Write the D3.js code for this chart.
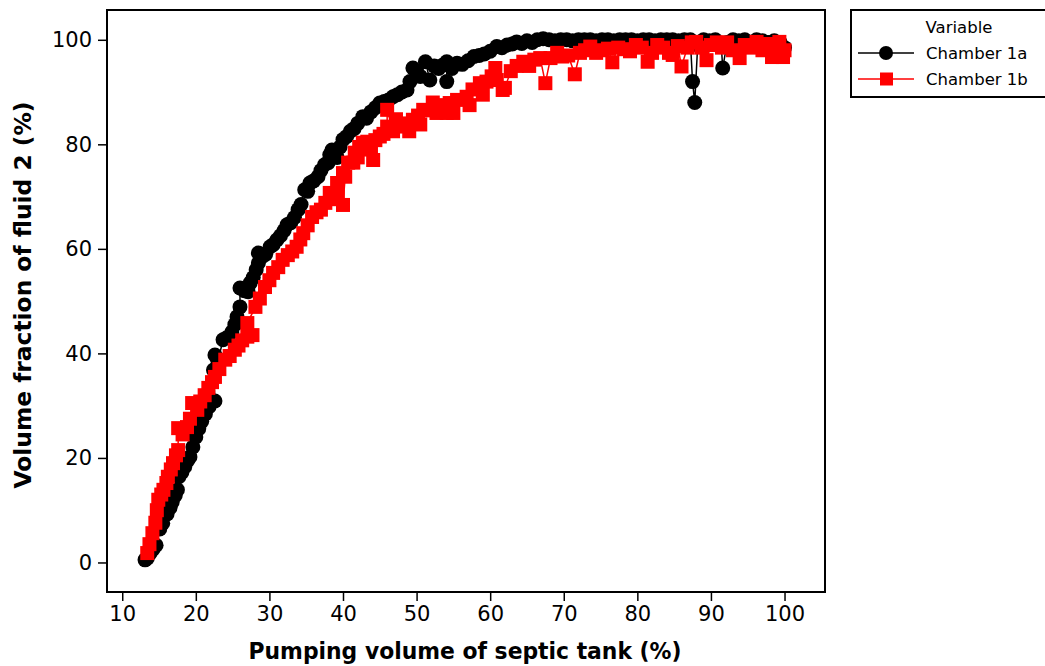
<!DOCTYPE html>
<html>
<head>
<meta charset="utf-8">
<script src="https://cdn.jsdelivr.net/npm/d3@7"></script>
<style>
  body { margin: 0; background: #fff; }
  svg { display: block; }
</style>
</head>
<body>
<div id="chart"></div>
<script>

// Chamber 1a (black circles): [pumping volume %, volume fraction %]
const chamber1a = [
    [13.1,0.5],[13.4,0.8],[13.8,1.8],[14.2,2.6],[14.6,3.3],[15.1,6.4],[15.5,7.5],[16.1,9.3],[16.5,10.5],[16.8,11.6],
    [17.2,12.8],[17.5,13.9],[17.7,16.4],[18.1,17.2],[18.5,18.3],[18.9,19.5],[19.2,20.2],[19.6,22.1],[20.0,24.0],[20.4,25.6],
    [20.8,27.0],[21.3,28.4],[21.8,29.8],[22.2,30.7],[22.6,30.9],[22.4,36.8],[22.6,39.7],[23.0,38.5],[23.7,42.6],[24.2,43.0],
    [24.9,44.1],[25.3,45.5],[25.6,47.0],[26.0,48.9],[26.0,52.5],[26.6,52.0],[27.1,51.8],[27.4,53.5],[27.8,54.5],[28.2,56.0],
    [28.5,57.3],[28.5,59.2],[29.0,58.5],[29.5,59.0],[30.1,60.4],[30.5,60.8],[31.0,61.7],[31.5,62.5],[32.0,63.5],[32.4,64.6],
    [32.9,65.0],[33.4,66.0],[33.9,67.5],[34.3,68.5],[34.8,71.3],[35.2,71.0],[35.5,72.6],[36.0,73.0],[36.6,73.8],[37.0,75.0],
    [37.5,76.1],[38.0,76.5],[38.2,78.0],[38.5,78.9],[39.2,77.5],[39.6,79.5],[40.0,80.9],[40.5,81.5],[41.0,82.5],[41.5,83.0],
    [42.0,84.0],[42.7,85.3],[43.2,85.0],[43.8,86.2],[44.4,87.0],[45.0,87.9],[45.6,88.2],[46.2,88.5],[46.8,89.1],[47.4,89.5],
    [48.0,90.0],[48.7,90.4],[49.1,92.0],[49.5,94.6],[50.0,94.0],[50.5,93.0],[51.2,95.8],[51.8,92.3],[52.4,95.0],[53.0,94.5],
    [53.6,95.2],[54.1,95.8],[54.1,92.0],[54.8,94.5],[55.5,95.5],[56.2,95.3],[57.0,96.0],[57.8,96.8],[58.5,97.0],[59.2,97.3],
    [60.0,97.8],[60.9,98.7],[61.6,98.5],[62.3,99.0],[63.0,99.2],[63.6,99.6],[64.3,99.3],[65.0,99.8],[65.7,99.5],[66.4,100.0],
    [67.2,100.2],[68.0,100.0],[68.8,99.8],[69.6,100.0],[70.4,100.0],[71.2,99.8],[72.0,100.0],[72.8,100.0],[73.6,100.0],[74.4,99.8],
    [75.2,100.0],[76.0,100.0],[76.8,99.8],[77.6,100.0],[78.4,100.0],[79.2,100.0],[80.0,99.8],[80.8,100.0],[81.6,100.0],[82.4,99.8],
    [83.2,100.0],[84.0,100.0],[84.8,100.0],[85.6,99.8],[86.4,100.0],[87.2,100.0],[87.5,92.0],[87.8,88.0],[88.2,99.0],[89.0,100.0],
    [89.8,99.8],[90.6,100.0],[91.4,99.0],[91.6,94.6],[92.2,99.5],[93.0,100.0],[93.8,99.8],[94.6,100.0],[95.4,99.5],[96.2,100.0],
    [97.0,99.8],[97.8,99.5],[98.6,99.8],[99.4,99.5],[100.0,98.5]
];

// Chamber 1b (red squares)
const chamber1b = [
    [13.4,1.8],[13.7,3.5],[14.1,5.6],[14.5,7.6],[14.7,10.0],[14.9,12.0],[15.3,13.0],[15.6,13.9],[16.0,15.2],[16.2,16.4],
    [16.6,17.8],[16.9,19.0],[17.3,20.5],[17.6,21.5],[17.6,25.7],[18.2,24.5],[18.8,25.9],[19.2,27.5],[19.5,30.5],[20.2,29.2],
    [20.6,30.8],[21.2,32.0],[21.7,33.4],[22.2,34.5],[22.6,35.5],[23.2,37.0],[24.0,38.8],[24.6,39.5],[25.3,40.7],[25.8,41.5],
    [26.3,42.5],[27.0,43.2],[27.7,43.5],[27.0,45.8],[28.1,48.9],[28.7,50.5],[29.4,52.7],[30.0,54.0],[30.5,55.4],[31.2,56.5],
    [31.8,57.9],[32.5,58.8],[33.1,59.5],[33.7,60.4],[34.2,61.8],[34.6,63.0],[35.2,64.5],[35.8,66.1],[36.4,67.0],[37.0,67.5],
    [37.6,68.8],[38.2,70.7],[38.6,69.5],[39.2,72.6],[39.3,70.0],[40.0,74.5],[40.0,68.4],[40.3,73.8],[40.7,76.5],[41.4,76.5],
    [41.6,78.4],[42.0,77.5],[42.2,79.5],[42.7,80.3],[43.3,80.5],[43.8,79.0],[44.1,77.0],[44.4,80.8],[45.0,81.5],[45.5,82.0],
    [46.0,83.4],[46.0,86.6],[46.8,82.5],[47.2,84.8],[47.7,83.4],[48.5,84.0],[49.0,82.5],[49.5,84.7],[50.2,85.5],[50.5,83.8],
    [50.9,86.6],[51.8,86.5],[52.2,88.0],[52.7,86.0],[53.5,87.5],[54.1,86.0],[54.5,87.9],[55.0,86.0],[55.5,88.5],[56.8,89.1],
    [57.2,87.5],[57.6,90.5],[58.6,91.7],[59.0,89.5],[59.5,92.0],[60.2,93.0],[60.9,92.3],[60.7,94.6],[61.7,90.4],[62.0,90.8],
    [62.8,94.0],[63.6,95.0],[64.5,95.8],[65.3,95.0],[66.0,96.2],[66.8,96.5],[67.5,91.7],[68.2,96.5],[69.1,97.5],[69.8,96.8],
    [70.6,97.0],[71.5,93.4],[72.2,97.5],[72.9,98.0],[73.6,98.7],[74.4,97.5],[75.2,98.0],[76.0,98.3],[76.6,95.7],[77.4,98.5],
    [78.2,98.2],[79.0,97.8],[79.8,99.0],[80.6,98.5],[81.4,95.8],[82.0,97.5],[82.7,99.0],[83.5,98.5],[84.3,97.5],[84.8,97.1],
    [85.5,98.8],[86.0,94.9],[86.8,98.5],[87.4,99.5],[88.0,99.6],[88.7,98.5],[89.4,96.1],[90.0,99.0],[90.8,99.5],[91.5,98.5],
    [92.2,99.5],[93.0,98.0],[93.9,96.5],[94.6,99.0],[95.4,98.5],[96.2,99.6],[97.0,98.0],[97.6,99.2],[98.3,96.7],[99.0,99.0],
    [99.3,99.6],[99.8,96.7],[100.0,98.0]
];

const xTicks = [10, 20, 30, 40, 50, 60, 70, 80, 90, 100];
const yTicks = [0, 20, 40, 60, 80, 100];
const seriesNames = ["Chamber 1a", "Chamber 1b"];
const legendTitle = "Variable";
const xTitle = "Pumping volume of septic tank (%)";
const yTitle = "Volume fraction of fluid 2 (%)";

const W = 1045, H = 666;
const margin = {top: 10, right: 220, bottom: 74, left: 107};
const width = W - margin.left - margin.right;   // 718
const height = H - margin.top - margin.bottom;  // 582

const svg = d3.select("#chart").append("svg")
    .attr("width", W)
    .attr("height", H);

const g = svg.append("g")
    .attr("transform", `translate(${margin.left}, ${margin.top})`);

const x = d3.scaleLinear().domain([7.93, 105.5]).range([0, width]);
const y = d3.scaleLinear().domain([-5.65, 105.7]).range([height, 0]);

// axes
const xAxis = g.append("g")
    .attr("transform", `translate(0, ${height})`)
    .call(d3.axisBottom(x).tickValues(xTicks).tickSize(9).tickPadding(5).tickSizeOuter(0));
const yAxis = g.append("g")
    .call(d3.axisLeft(y).tickValues(yTicks).tickSize(9).tickPadding(6).tickSizeOuter(0));

[xAxis, yAxis].forEach(a => {
    a.select(".domain").remove();
    a.selectAll("line").attr("stroke", "#000").attr("stroke-width", 1.5);
    a.selectAll("text")
        .attr("fill", "#000")
        .style("font-family", "'DejaVu Sans', sans-serif")
        .style("font-size", "21px");
});

// frame
g.append("rect")
    .attr("width", width)
    .attr("height", height)
    .attr("fill", "none")
    .attr("stroke", "#000")
    .attr("stroke-width", 2);

const line = d3.line().x(d => x(d[0])).y(d => y(d[1]));

// chamber 1a
g.append("path")
    .datum(chamber1a)
    .attr("d", line)
    .attr("fill", "none")
    .attr("stroke", "#000")
    .attr("stroke-width", 1.5);

g.selectAll("circle.a")
    .data(chamber1a)
    .enter().append("circle")
    .attr("class", "a")
    .attr("cx", d => x(d[0]))
    .attr("cy", d => y(d[1]))
    .attr("r", 7.5)
    .attr("fill", "#000");

// chamber 1b
g.append("path")
    .datum(chamber1b)
    .attr("d", line)
    .attr("fill", "none")
    .attr("stroke", "#ff0000")
    .attr("stroke-width", 1.5);

const sq = 14;
g.selectAll("rect.b")
    .data(chamber1b)
    .enter().append("rect")
    .attr("class", "b")
    .attr("x", d => x(d[0]) - sq / 2)
    .attr("y", d => y(d[1]) - sq / 2)
    .attr("width", sq)
    .attr("height", sq)
    .attr("fill", "#ff0000");

// axis titles
svg.append("text")
    .attr("x", 465)
    .attr("y", 659)
    .attr("text-anchor", "middle")
    .style("font-family", "'DejaVu Sans', sans-serif")
    .style("font-weight", "bold")
    .style("font-size", "23px")
    .attr("textLength", 433)
    .attr("lengthAdjust", "spacingAndGlyphs")
    .text(xTitle);

svg.append("text")
    .attr("transform", `translate(31, 295) rotate(-90)`)
    .attr("text-anchor", "middle")
    .style("font-family", "'DejaVu Sans', sans-serif")
    .style("font-weight", "bold")
    .style("font-size", "23px")
    .attr("textLength", 387)
    .attr("lengthAdjust", "spacingAndGlyphs")
    .text(yTitle);

// legend
const legend = svg.append("g").attr("class", "legend");
legend.append("rect")
    .attr("x", 851)
    .attr("y", 10)
    .attr("width", 200)
    .attr("height", 87)
    .attr("fill", "#fff")
    .attr("stroke", "#000")
    .attr("stroke-width", 2);

legend.append("text")
    .attr("x", 959)
    .attr("y", 33)
    .attr("text-anchor", "middle")
    .style("font-family", "'DejaVu Sans', sans-serif")
    .style("font-size", "16.5px")
    .text(legendTitle);

const legRows = [
    {name: seriesNames[0], color: "#000", shape: "circle", y: 53},
    {name: seriesNames[1], color: "#ff0000", shape: "square", y: 79}
];
legRows.forEach(r => {
    legend.append("line")
        .attr("x1", 858).attr("x2", 914)
        .attr("y1", r.y).attr("y2", r.y)
        .attr("stroke", r.color)
        .attr("stroke-width", 1.5);
    if (r.shape === "circle") {
        legend.append("circle").attr("cx", 886).attr("cy", r.y).attr("r", 7).attr("fill", r.color);
    } else {
        legend.append("rect").attr("x", 880).attr("y", r.y - 6.5).attr("width", 13).attr("height", 13).attr("fill", r.color);
    }
    legend.append("text")
        .attr("x", 926)
        .attr("y", r.y + 6)
        .style("font-family", "'DejaVu Sans', sans-serif")
        .style("font-size", "16.5px")
        .text(r.name);
});

</script>
</body>
</html>
